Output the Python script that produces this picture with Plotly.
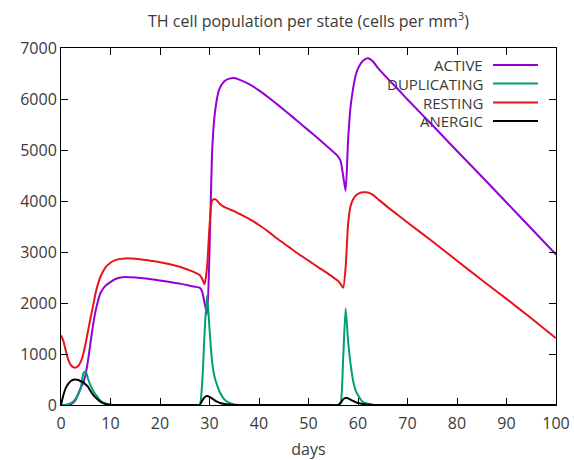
import plotly.graph_objects as go

days = [0, 0.5, 1, 1.5, 2, 2.5, 3, 3.5, 4, 4.5, 5, 5.5, 6, 6.5, 7, 7.5, 8, 9, 10, 11, 12, 13, 14, 16, 18, 20, 22, 24, 26, 27, 28,
        28.5, 29, 29.5, 30, 30.5, 31, 31.5, 32, 33, 34, 35, 36, 38, 40, 42, 44, 46, 48, 50, 52, 54, 56,
        56.5, 57, 57.5, 58, 58.5, 59, 59.5, 60, 61, 62, 63, 64, 66, 68, 70, 75, 80, 85, 90, 95, 100]

active = [0, 0, 0, 3, 15, 50, 110, 220, 340, 430, 620, 900, 1250, 1580, 1850, 2050, 2200, 2340, 2410, 2470, 2500, 2510, 2505, 2490, 2470, 2440, 2410, 2380, 2340, 2320, 2300,
          2230, 2000, 1780, 3000, 4900, 5650, 6000, 6200, 6350, 6400, 6410, 6380, 6290, 6170, 6025, 5870, 5710, 5550, 5385, 5220, 5050, 4870,
          4780, 4500, 4200, 5200, 5850, 6200, 6450, 6600, 6750, 6800, 6740, 6610, 6400, 6200, 5990, 5490, 4980, 4480, 3970, 3460, 2950]

duplicating = [0, 0, 5, 15, 35, 70, 130, 220, 330, 620, 660, 500, 380, 280, 205, 140, 85, 30, 5, 0, 0, 0, 0, 0, 0, 0, 0, 0, 0, 0, 0,
               400, 1400, 2150, 1500, 870, 560, 400, 270, 110, 40, 10, 0, 0, 0, 0, 0, 0, 0, 0, 0, 0, 0,
               50, 900, 1890, 1250, 800, 480, 290, 190, 60, 25, 5, 0, 0, 0, 0, 0, 0, 0, 0, 0, 0]

resting = [1370, 1250, 1050, 880, 780, 740, 735, 770, 850, 1000, 1220, 1470, 1720, 1950, 2200, 2380, 2520, 2700, 2790, 2840, 2865, 2875, 2875, 2860, 2830, 2800, 2760, 2710, 2640, 2600, 2550,
           2480, 2370, 2700, 3500, 4000, 4040, 4010, 3950, 3880, 3840, 3800, 3750, 3650, 3530, 3390, 3240, 3100, 2960, 2830, 2700, 2570, 2430,
           2370, 2300, 2700, 3550, 3900, 4030, 4100, 4140, 4170, 4165, 4120, 4040, 3880, 3730, 3580, 3210, 2830, 2450, 2080, 1700, 1310]

anergic = [0, 200, 340, 420, 470, 495, 500, 490, 465, 445, 400, 350, 270, 200, 145, 100, 62, 20, 5, 0, 0, 0, 0, 0, 0, 0, 0, 0, 0, 0, 0,
           80, 150, 175, 160, 130, 95, 65, 45, 20, 8, 0, 0, 0, 0, 0, 0, 0, 0, 0, 0, 0, 0,
           40, 110, 140, 130, 105, 80, 55, 40, 20, 8, 0, 0, 0, 0, 0, 0, 0, 0, 0, 0, 0]

names = ["ACTIVE", "DUPLICATING", "RESTING", "ANERGIC"]
colors = ["#9400d3", "#009e73", "#e8141b", "#000000"]
series = [active, duplicating, resting, anergic]

fig = go.Figure()
for n, c, s in zip(names, colors, series):
    fig.add_trace(go.Scatter(x=days, y=s, mode="lines", name=n,
                             line=dict(color=c, width=2, shape="spline", smoothing=0.6),
                             showlegend=False))

FONT = "Open Sans"
TXT = "#3a3a3a"
W, H = 574, 460
L, R, T, B = 61, 18, 48, 55
PW, PH = W - L - R, H - T - B

# gnuplot-style key: text right-aligned, line sample to its right
rows_y = [65, 83.5, 102.5, 121]
for n, c, yy in zip(names, colors, rows_y):
    yp = 1 - (yy - T) / PH
    fig.add_annotation(x=(485 - L) / PW, y=yp, xref="paper", yref="paper",
                       text=n, showarrow=False, xanchor="right", yanchor="middle",
                       font=dict(family=FONT, size=15, color=TXT))
    fig.add_shape(type="line", xref="paper", yref="paper",
                  x0=(493 - L) / PW, x1=(538 - L) / PW, y0=yp, y1=yp,
                  line=dict(color=c, width=2))

fig.update_layout(
    width=W, height=H,
    margin=dict(l=L, r=R, t=T, b=B, autoexpand=False),
    paper_bgcolor="white", plot_bgcolor="white",
    font=dict(family=FONT, size=16, color=TXT),
    title=dict(text="TH cell population per state (cells per mm<sup>3</sup>)",
               x=(L + PW / 2) / W, xanchor="center", y=1 - 21 / H, yanchor="middle",
               font=dict(family=FONT, size=16, color=TXT)),
    xaxis=dict(range=[0, 100], tickvals=list(range(0, 101, 10)), ticks="inside", ticklen=7,
               showline=True, linecolor="black", linewidth=1, mirror="ticks", tickcolor="black",
               showgrid=False, zeroline=False, automargin=False, ticklabelstandoff=4,
               title=dict(text="days", font=dict(family=FONT, size=16, color=TXT), standoff=14),
               tickfont=dict(family=FONT, size=16, color=TXT)),
    yaxis=dict(range=[0, 7000], tickvals=list(range(0, 7001, 1000)), ticks="inside", ticklen=7,
               showline=True, linecolor="black", linewidth=1, mirror="ticks", tickcolor="black",
               showgrid=False, zeroline=False, automargin=False,
               tickfont=dict(family=FONT, size=16, color=TXT)),
)

fig.write_html("out.html")
